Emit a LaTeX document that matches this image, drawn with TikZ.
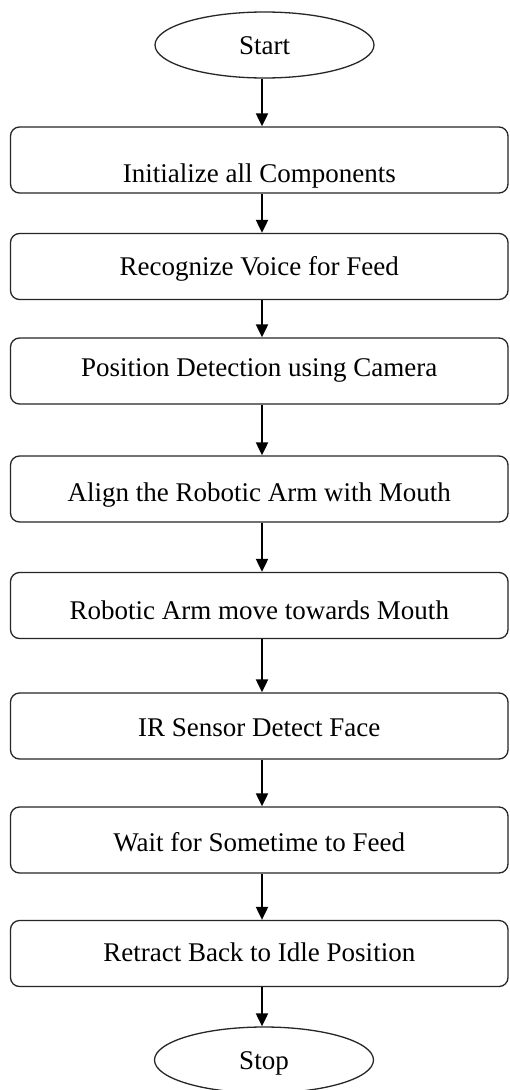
\documentclass[tikz,border=0pt]{standalone}
\usepackage{fontspec}
\setmainfont{Liberation Serif}
\usetikzlibrary{shapes.geometric,arrows.meta}

\begin{document}
\begin{tikzpicture}[x=1pt,y=-1pt,
  stepbox/.style={draw=black!85, line width=1.3pt, rounded corners=9pt,
    minimum width=497.5pt, minimum height=66pt, inner sep=0pt,
    font=\fontsize{27}{30}\selectfont, text height=#1, text depth=0pt},
  stepbox/.default=18pt,
  terminal/.style={draw=black!85, line width=1.3pt, ellipse,
    minimum width=219pt, minimum height=66pt, inner sep=0pt,
    font=\fontsize{27}{30}\selectfont, text height=18pt, text depth=0pt},
  flow/.style={draw=black, line width=2pt,
    -{Triangle[length=13pt,width=12pt]}}]

  \useasboundingbox (0,0) rectangle (509,1090);
  \fill[white] (0,0) rectangle (509,1090);

  % vertical line carrying all the arrows
  \coordinate (ax) at (262,0);

  \node[terminal] (start) at (264.5,45) {Start};
  \node[stepbox=44pt] (b1) at (259.25,160)   {Initialize all Components};
  \node[stepbox]      (b2) at (259.25,266.5) {Recognize Voice for Feed};
  \node[stepbox=11pt] (b3) at (259.25,371)   {Position Detection using Camera};
  \node[stepbox=25pt] (b4) at (259.25,489)   {Align the Robotic Arm with Mouth};
  \node[stepbox=27pt] (b5) at (259.25,605.5) {Robotic Arm move towards Mouth};
  \node[stepbox=21pt] (b6) at (259.25,726)   {IR Sensor Detect Face};
  \node[stepbox=23pt] (b7) at (259.25,840)   {Wait for Sometime to Feed};
  \node[stepbox=15pt] (b8) at (259.25,953.5) {Retract Back to Idle Position};
  \node[terminal] (stop) at (264,1060) {Stop};

  \draw[flow] (start.south -| ax) -- (b1.north -| ax);
  \draw[flow] (b1.south -| ax) -- (b2.north -| ax);
  \draw[flow] (b2.south -| ax) -- (b3.north -| ax);
  \draw[flow] (b3.south -| ax) -- (b4.north -| ax);
  \draw[flow] (b4.south -| ax) -- (b5.north -| ax);
  \draw[flow] (b5.south -| ax) -- (b6.north -| ax);
  \draw[flow] (b6.south -| ax) -- (b7.north -| ax);
  \draw[flow] (b7.south -| ax) -- (b8.north -| ax);
  \draw[flow] (b8.south -| ax) -- (stop.north -| ax);
\end{tikzpicture}
\end{document}
